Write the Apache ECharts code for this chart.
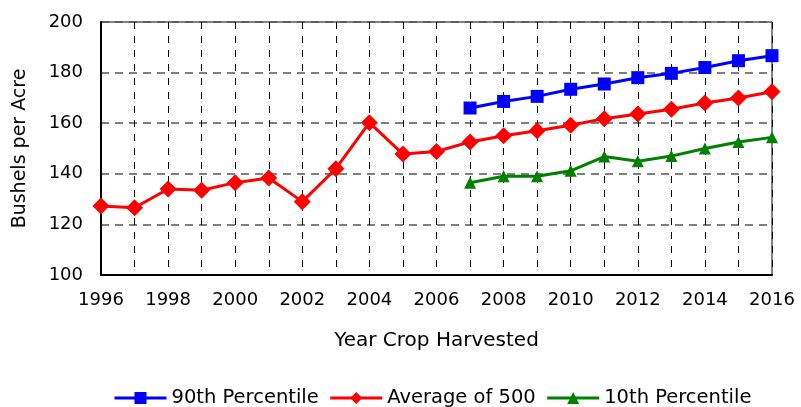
<!DOCTYPE html>
<html>
<head>
<meta charset="utf-8">
<script src="https://cdn.jsdelivr.net/npm/echarts@6/dist/echarts.min.js"></script>
<style>
  html, body { margin: 0; padding: 0; background: #fff; }
  #chart { width: 801px; height: 407px; }
</style>
</head>
<body>
<div id="chart"></div>
<script>
// Harvest years on the horizontal axis
const years = ['1996','1997','1998','1999','2000','2001','2002','2003','2004','2005','2006',
               '2007','2008','2009','2010','2011','2012','2013','2014','2015','2016'];

// Yields in bushels per acre (null where a series has no value)
const p90 = [null,null,null,null,null,null,null,null,null,null,null,
             166.0,168.6,170.6,173.4,175.5,178.0,179.7,182.0,184.7,186.7];
const avg500 = [127.3,126.6,134.0,133.5,136.5,138.3,129.0,142.0,160.2,147.8,148.8,
                152.6,155.0,157.0,159.2,161.8,163.6,165.5,168.0,170.0,172.4];
const p10 = [null,null,null,null,null,null,null,null,null,null,null,
             136.5,139.0,139.0,141.2,146.8,145.0,147.0,150.0,152.6,154.4];

const font = 'DejaVu Sans, Liberation Sans, Arial, sans-serif';
const chart = echarts.init(document.getElementById('chart'));

chart.setOption({
  animation: false,
  grid: {
    left: 101, right: 29, top: 22, bottom: 132,
    show: true, borderColor: '#000', borderWidth: 1, backgroundColor: 'transparent'
  },
  legend: {
    top: 383, left: 108,
    itemWidth: 52, itemHeight: 15, itemGap: 10,
    lineStyle: { width: 3 },
    textStyle: { fontFamily: font, fontSize: 19.5, color: '#000' },
    data: ['90th Percentile', 'Average of 500', '10th Percentile']
  },
  xAxis: {
    type: 'category',
    data: years,
    boundaryGap: false,
    name: 'Year Crop Harvested',
    nameLocation: 'middle',
    nameGap: 56,
    nameTextStyle: { fontFamily: font, fontSize: 20, color: '#000' },
    axisLine: { lineStyle: { color: '#000', width: 2 } },
    axisTick: { show: false },
    axisLabel: { interval: 1, fontFamily: font, fontSize: 18, color: '#000', margin: 16 },
    splitLine: { show: true, interval: 0, lineStyle: { color: '#000', type: [7, 7], width: 1 } }
  },
  yAxis: {
    type: 'value',
    min: 100, max: 200, interval: 20,
    name: 'Bushels per Acre',
    nameLocation: 'middle',
    nameGap: 71,
    nameRotate: 90,
    nameTextStyle: { fontFamily: font, fontSize: 19, color: '#000' },
    axisLine: { show: true, lineStyle: { color: '#000', width: 2 } },
    axisTick: { show: false },
    axisLabel: { fontFamily: font, fontSize: 18, color: '#000', margin: 18 },
    splitLine: { show: true, lineStyle: { color: '#555', type: [8, 6], width: 1.5 } }
  },
  series: [
    {
      name: '90th Percentile', type: 'line', data: p90,
      symbol: 'rect', symbolSize: 13,
      lineStyle: { color: '#0000ff', width: 3 },
      itemStyle: { color: '#0000ff' }
    },
    {
      name: 'Average of 500', type: 'line', data: avg500,
      symbol: 'diamond', symbolSize: 17,
      lineStyle: { color: '#ff0000', width: 3 },
      itemStyle: { color: '#ff0000' }
    },
    {
      name: '10th Percentile', type: 'line', data: p10,
      symbol: 'triangle', symbolSize: 12,
      lineStyle: { color: '#008000', width: 3 },
      itemStyle: { color: '#008000' }
    }
  ]
});
</script>
</body>
</html>
